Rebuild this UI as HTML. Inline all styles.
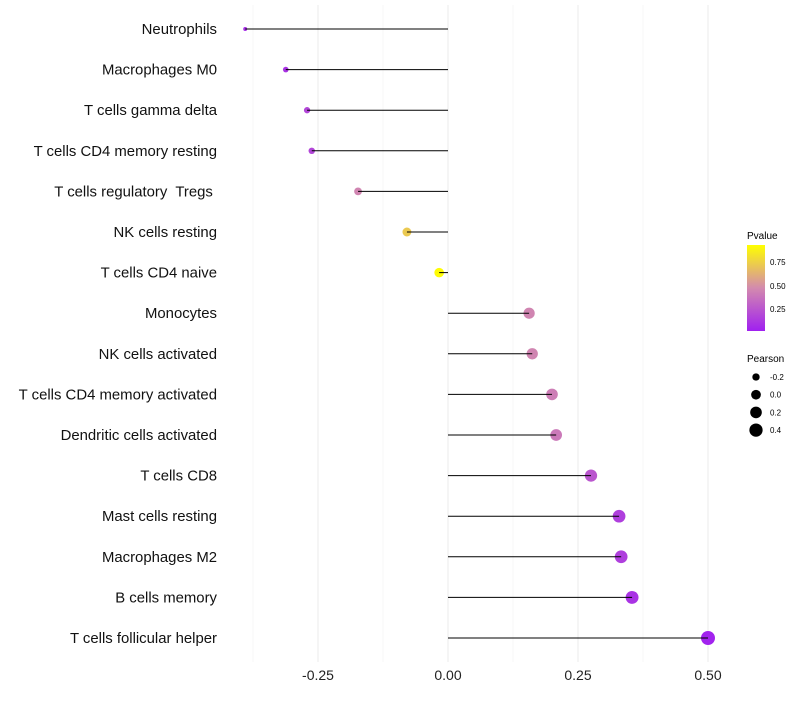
<!DOCTYPE html>
<html><head><meta charset="utf-8"><style>
body{margin:0;background:#fff;font-family:"Liberation Sans",sans-serif}
svg text{font-family:"Liberation Sans",sans-serif;white-space:pre}
</style></head><body>
<svg id="chart" width="800" height="700" xmlns="http://www.w3.org/2000/svg">
<g id="grid"></g>
<g id="marks"></g>
<g id="ylabels"></g>
<g id="xlabels"></g>
<g id="legend">
  <defs><linearGradient id="pg" x1="0" y1="1" x2="0" y2="0">
    <stop offset="0" stop-color="#A020F0"/><stop offset="0.5" stop-color="#D38AAE"/><stop offset="1" stop-color="#FFFF00"/>
  </linearGradient></defs>
  <text x="747" y="239" font-size="10">Pvalue</text>
  <rect x="747" y="245" width="18" height="86" fill="url(#pg)"/>
  <text x="770" y="265" font-size="8">0.75</text>
  <text x="770" y="289" font-size="8">0.50</text>
  <text x="770" y="312" font-size="8">0.25</text>
  <text x="747" y="362" font-size="10">Pearson</text>
</g>
</svg>
<script>
const categories=["Neutrophils","Macrophages M0","T cells gamma delta","T cells CD4 memory resting","T cells regulatory  Tregs ","NK cells resting","T cells CD4 naive","Monocytes","NK cells activated","T cells CD4 memory activated","Dendritic cells activated","T cells CD8","Mast cells resting","Macrophages M2","B cells memory","T cells follicular helper"];
const pearson=[-0.39,-0.312,-0.271,-0.262,-0.173,-0.079,-0.017,0.156,0.162,0.2,0.208,0.275,0.329,0.333,0.354,0.5];
const pvalues=[0.08,0.1,0.18,0.18,0.45,0.72,0.92,0.45,0.45,0.42,0.4,0.25,0.15,0.15,0.1,0.03];
const xTicks=[-0.25,0,0.25,0.5];
const xTickLabels=["-0.25","0.00","0.25","0.50"];
const sizeLegendValues=[-0.2,0,0.2,0.4];
const sizeLegendLabels=["-0.2","0.0","0.2","0.4"];

const NS="http://www.w3.org/2000/svg";
const xs=v=>448+v*520;
const ys=i=>29+i*40.6;
const rs=v=>Math.sqrt(Math.max(1,23.7+50.6*v));
function lerp(a,b,t){return a+(b-a)*t}
function col(p){
  const pmin=0.016,pmax=0.93;
  let t=Math.min(1,Math.max(0,(p-pmin)/(pmax-pmin)));
  const s=[[160,32,240],[211,138,174],[255,255,0]];
  let a,b,u;
  if(t<0.5){a=s[0];b=s[1];u=t/0.5}else{a=s[1];b=s[2];u=(t-0.5)/0.5}
  return `rgb(${Math.round(lerp(a[0],b[0],u))},${Math.round(lerp(a[1],b[1],u))},${Math.round(lerp(a[2],b[2],u))})`;
}
function mk(tag,attrs,parent){const e=document.createElementNS(NS,tag);for(const k in attrs)e.setAttribute(k,attrs[k]);parent.appendChild(e);return e;}
const grid=document.getElementById('grid'),marks=document.getElementById('marks'),yl=document.getElementById('ylabels'),xl=document.getElementById('xlabels'),lg=document.getElementById('legend');
for(let i=0;i<xTicks.length;i++){
  const m=mk('line',{x1:xs(xTicks[i]-0.125),x2:xs(xTicks[i]-0.125),y1:5,y2:662,stroke:'#f2f2f2','stroke-width':0.6},grid);
  
  
}
xTicks.forEach((v,i)=>{
  const g=mk('line',{x1:xs(v),x2:xs(v),y1:5,y2:662,stroke:'#ebebeb','stroke-width':1},grid);
  
  
  const t=mk('text',{x:xs(v),y:680,'font-size':14,'text-anchor':'middle',fill:'#222'},xl);
  t.textContent=xTickLabels[i];
  
  
});
categories.forEach((c,i)=>{
  const y=ys(i);
  const t=mk('text',{x:217,y:y+5,'font-size':14.9,'text-anchor':'end',fill:'#111'},yl);
  t.textContent=c;
  
  
  const d=mk('circle',{cx:xs(pearson[i]),cy:y,r:rs(pearson[i]),fill:col(pvalues[i])},marks);
  
  
  const l=mk('line',{x1:xs(0),x2:xs(pearson[i]),y1:y,y2:y,stroke:'#000','stroke-width':1},marks);
  
  
});
sizeLegendValues.forEach((v,i)=>{
  const y=377+i*17.7;
  const c=mk('circle',{cx:756,cy:y,r:rs(v),fill:'#000'},lg);
  
  
  const t=mk('text',{x:770,y:y+3,'font-size':8},lg);
  t.textContent=sizeLegendLabels[i];
  
  
});
</script>
</body></html>
